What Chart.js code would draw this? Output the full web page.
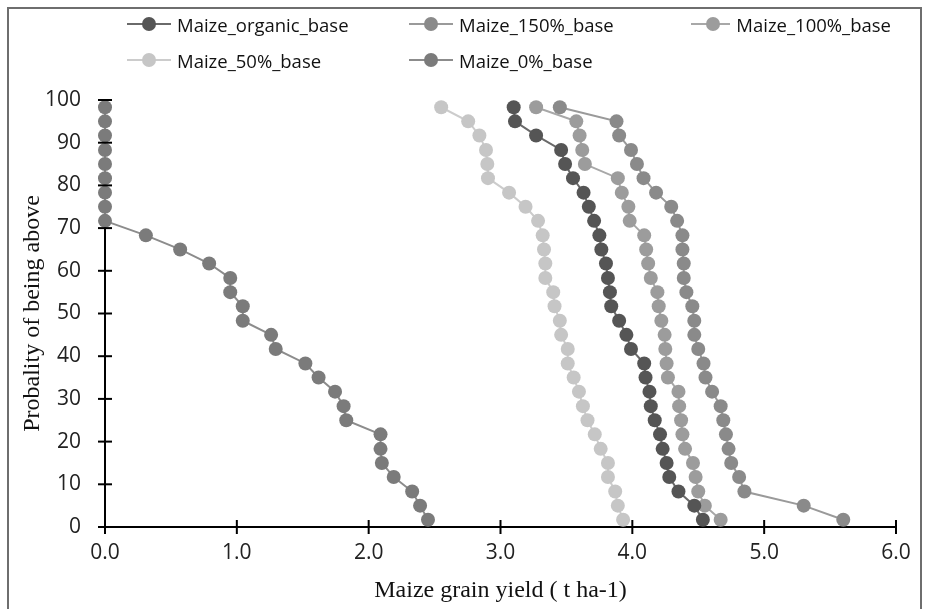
<!DOCTYPE html>
<html>
<head>
<meta charset="utf-8">
<script src="https://cdn.jsdelivr.net/npm/chart.js@4/dist/chart.umd.min.js"></script>
<style>
  html, body { margin: 0; padding: 0; background: #fff; }
  #wrap { position: relative; width: 931px; height: 609px; overflow: hidden; }
  #frame { position: absolute; left: 7px; top: 7px; width: 915px; height: 620px; border: 2px solid #6e6e6e; box-sizing: border-box; }
  #legend { position: absolute; left: 127px; top: 12px; display: grid; grid-template-columns: 282px 282px 200px; row-gap: 12px;
            font-family: "Open Sans", sans-serif; font-size: 18.5px; color: #111; }
  .item { display: flex; align-items: center; height: 24px; white-space: nowrap; }
  .sym { position: relative; width: 44px; height: 14px; margin-right: 6px; }
  .sym .ln { position: absolute; left: 0; right: 0; top: 6px; height: 2px; }
  .sym .dot { position: absolute; left: 15px; top: 0; width: 14px; height: 14px; border-radius: 50%; }
  canvas { position: absolute; left: 0; top: 0; }
</style>
</head>
<body>
<div id="wrap">
  <div id="frame"></div>
  <canvas id="cdf" width="931" height="609"></canvas>
  <div id="legend"></div>
</div>
<script>
// exceedance probability (%) of each ranked point, top to bottom
const probability = [98.3, 95.0, 91.7, 88.3, 85.0, 81.7, 78.3, 75.0, 71.7, 68.3,
                     65.0, 61.7, 58.3, 55.0, 51.7, 48.3, 45.0, 41.7, 38.3, 35.0,
                     31.7, 28.3, 25.0, 21.7, 18.3, 15.0, 11.7, 8.3, 5.0, 1.7];

const organicBase = [3.10, 3.11, 3.27, 3.46, 3.49, 3.55, 3.63, 3.67, 3.71, 3.75,
                     3.765, 3.80, 3.815, 3.83, 3.84, 3.90, 3.955, 3.99, 4.09, 4.10,
                     4.13, 4.14, 4.17, 4.21, 4.23, 4.26, 4.28, 4.35, 4.47, 4.535];
const base150 = [3.45, 3.88, 3.90, 3.99, 4.035, 4.085, 4.18, 4.295, 4.34, 4.38,
                 4.38, 4.39, 4.39, 4.41, 4.455, 4.47, 4.47, 4.50, 4.54, 4.555,
                 4.605, 4.67, 4.69, 4.71, 4.73, 4.75, 4.81, 4.85, 5.30, 5.60];
const base100 = [3.27, 3.575, 3.60, 3.62, 3.64, 3.89, 3.92, 3.97, 3.98, 4.09,
                 4.105, 4.12, 4.14, 4.19, 4.20, 4.22, 4.245, 4.25, 4.26, 4.27,
                 4.35, 4.355, 4.37, 4.38, 4.40, 4.46, 4.48, 4.50, 4.55, 4.67];
const base50 = [2.55, 2.755, 2.84, 2.89, 2.90, 2.905, 3.065, 3.19, 3.285, 3.32,
                3.33, 3.34, 3.34, 3.40, 3.41, 3.45, 3.46, 3.51, 3.51, 3.555,
                3.595, 3.625, 3.66, 3.715, 3.76, 3.815, 3.815, 3.87, 3.89, 3.93];
const base0 = [0, 0, 0, 0, 0, 0, 0, 0, 0, 0.31,
               0.57, 0.79, 0.95, 0.95, 1.045, 1.045, 1.26, 1.295, 1.52, 1.62,
               1.745, 1.81, 1.83, 2.09, 2.09, 2.10, 2.19, 2.33, 2.39, 2.45];

const xTicks = [0, 1, 2, 3, 4, 5, 6];
const yTicks = [0, 10, 20, 30, 40, 50, 60, 70, 80, 90, 100];

const series = [
  { label: 'Maize_organic_base', values: organicBase, dot: '#555555', line: '#6a6a6a' },
  { label: 'Maize_150%_base', values: base150, dot: '#8a8a8a', line: '#9a9a9a' },
  { label: 'Maize_100%_base', values: base100, dot: '#9c9c9c', line: '#a8a8a8' },
  { label: 'Maize_50%_base', values: base50, dot: '#c6c6c6', line: '#cccccc' },
  { label: 'Maize_0%_base', values: base0, dot: '#7b7b7b', line: '#8c8c8c' }
];

// legend (three columns, two rows like the original)
const legendEl = document.getElementById('legend');
series.forEach(s => {
  const it = document.createElement('div');
  it.className = 'item';
  it.innerHTML = '<span class="sym"><span class="ln" style="background:' + s.line + '"></span>' +
                 '<span class="dot" style="background:' + s.dot + '"></span></span><span>' + s.label + '</span>';
  legendEl.appendChild(it);
});

// ticks that cross the axis lines
const crossTicks = {
  id: 'crossTicks',
  afterDraw(chart) {
    const { ctx, chartArea, scales } = chart;
    ctx.save();
    ctx.strokeStyle = '#000';
    ctx.lineWidth = 2;
    scales.x.ticks.forEach(t => {
      const px = scales.x.getPixelForValue(t.value);
      ctx.beginPath();
      ctx.moveTo(px, chartArea.bottom - 7);
      ctx.lineTo(px, chartArea.bottom + 7);
      ctx.stroke();
    });
    scales.y.ticks.forEach(t => {
      const py = scales.y.getPixelForValue(t.value);
      ctx.beginPath();
      ctx.moveTo(chartArea.left - 7, py);
      ctx.lineTo(chartArea.left + 7, py);
      ctx.stroke();
    });
    ctx.restore();
  }
};

new Chart(document.getElementById('cdf').getContext('2d'), {
  type: 'scatter',
  data: {
    datasets: series.map(s => ({
      label: s.label,
      data: s.values.map((v, i) => ({ x: v, y: probability[i] })),
      showLine: true,
      borderColor: s.line,
      borderWidth: 2,
      backgroundColor: s.dot,
      pointBackgroundColor: s.dot,
      pointBorderColor: s.dot,
      pointBorderWidth: 0,
      pointRadius: 7,
      clip: false
    }))
  },
  options: {
    responsive: false,
    animation: false,
    layout: { padding: { top: 100, right: 35, left: 0, bottom: 0 } },
    plugins: {
      legend: { display: false },
      tooltip: { enabled: false }
    },
    scales: {
      x: {
        type: 'linear',
        min: 0, max: 6,
        afterBuildTicks: sc => { sc.ticks = xTicks.map(v => ({ value: v })); },
        afterFit: sc => { sc.height = 82; },
        grid: { display: false },
        border: { display: true, color: '#000', width: 2 },
        ticks: {
          padding: 5,
          color: '#222',
          font: { family: 'Open Sans', size: 21 },
          callback: v => v.toFixed(1)
        },
        title: {
          display: true,
          text: 'Maize grain yield ( t ha-1)',
          color: '#111',
          font: { family: 'Liberation Serif', size: 24 },
          padding: { top: 4, bottom: 4 }
        }
      },
      y: {
        type: 'linear',
        min: 0, max: 100,
        afterBuildTicks: sc => { sc.ticks = yTicks.map(v => ({ value: v })); },
        afterFit: sc => { sc.width = 105; },
        grid: { display: false },
        border: { display: true, color: '#000', width: 2 },
        ticks: {
          padding: 16,
          color: '#222',
          font: { family: 'Open Sans', size: 21 }
        },
        title: {
          display: true,
          text: 'Probality of being above',
          color: '#111',
          font: { family: 'Liberation Serif', size: 24 },
          padding: { top: 18, bottom: 18 }
        }
      }
    }
  },
  plugins: [crossTicks]
});
</script>
</body>
</html>
